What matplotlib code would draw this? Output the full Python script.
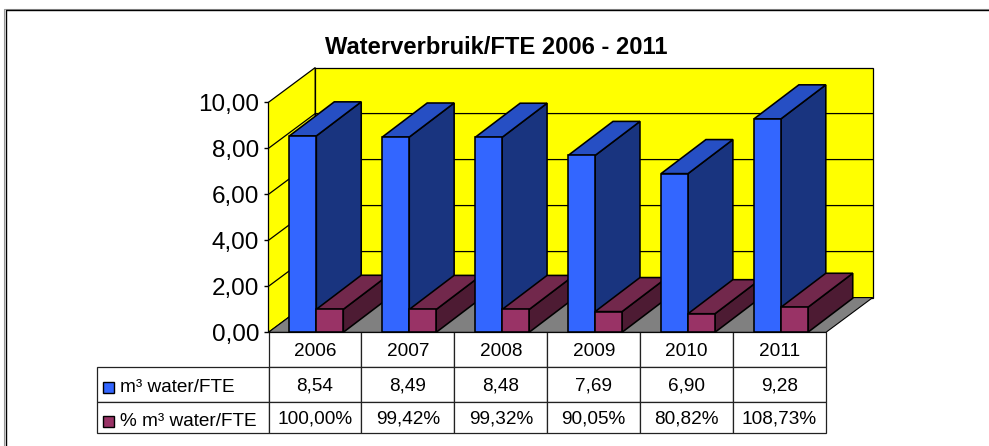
import matplotlib
matplotlib.use("Agg")
import matplotlib.pyplot as plt
from matplotlib.lines import Line2D
from matplotlib.patches import Polygon, Rectangle

plt.rcParams['font.family'] = ['Liberation Sans', 'DejaVu Sans']

years = ["2006", "2007", "2008", "2009", "2010", "2011"]
water = [8.54, 8.49, 8.48, 7.69, 6.90, 9.28]
pct = [100.00, 99.42, 99.32, 90.05, 80.82, 108.73]
water_labels = ["8,54", "8,49", "8,48", "7,69", "6,90", "9,28"]
pct_labels = ["100,00%", "99,42%", "99,32%", "90,05%", "80,82%", "108,73%"]
yticks = [0, 2, 4, 6, 8, 10]
ytick_labels = ["0,00", "2,00", "4,00", "6,00", "8,00", "10,00"]
row_labels = ["m³ water/FTE", "% m³ water/FTE"]
title = "Waterverbruik/FTE 2006 - 2011"

W, H = 989, 446
# depth of the 3d box, in axis units
DX = 0.503
DY = 1.51
BAR_W = 0.29
GAP = 0.225

fig = plt.figure(figsize=(W / 100, H / 100), dpi=100)

# only the top and left of the chart frame fall inside the picture
frame_x = [5.5 / W, 5.5 / W, 1]
frame_y = [0, 1 - 9.5 / H, 1 - 9.5 / H]
fig.add_artist(Line2D([v - 1 / W if i < 2 else v for i, v in enumerate(frame_x)],
                      [v + 1 / H if i > 0 else v for i, v in enumerate(frame_y)], color="#999999", lw=0.8))
fig.add_artist(Line2D(frame_x, frame_y, color="black", lw=1.0))

ax = fig.add_axes([268.5 / W, 1 - 332.3 / H, 557.5 / W, 230 / H])
ax.set_xlim(0, 6)
ax.set_ylim(0, 10)
ax.patch.set_visible(False)
for s in ax.spines.values():
    s.set_visible(False)


def poly(pts, fc, z=2, lw=1.15, ec="black"):
    ax.add_patch(Polygon(pts, closed=True, fc=fc, ec=ec, lw=lw, zorder=z, clip_on=False, joinstyle="miter"))


# walls and floor
poly([(0, 0), (DX, DY), (DX, 10 + DY), (0, 10)], "#ffff00", lw=0.9)
poly([(DX, DY), (6 + DX, DY), (6 + DX, 10 + DY), (DX, 10 + DY)], "#ffff00", lw=0.9)
poly([(0, 0), (6, 0), (6 + DX, DY), (DX, DY)], "#808080", lw=0.8)

for t in yticks[1:-1]:
    ax.plot([0, DX, 6 + DX], [t, t + DY, t + DY], color="black", lw=0.9, zorder=3, clip_on=False)


def bar3d(x, w, h, front, top, side, z):
    poly([(x + w, 0), (x + w + DX * 0.96, DY * 0.98), (x + w + DX * 0.96, h + DY * 0.98), (x + w, h)], side, z)
    poly([(x, h), (x + DX * 0.96, h + DY * 0.98), (x + w + DX * 0.96, h + DY * 0.98), (x + w, h)], top, z)
    poly([(x, 0), (x + w, 0), (x + w, h), (x, h)], front, z + 0.5)


# each year's blue box goes first, its maroon one sits in front of it
for i in range(len(years)):
    x = i + GAP
    bar3d(x, BAR_W, water[i], "#3366ff", "#264fc4", "#19347f", 4 + i * 2)
    bar3d(x + BAR_W, BAR_W, pct[i] / 100, "#993366", "#72284c", "#4d1b33", 5 + i * 2)

ax.set_xticks([])
ax.set_yticks(yticks)
ax.set_yticklabels(ytick_labels, fontsize=17.5, color="black")
ax.tick_params(axis="y", length=3.6, width=1, pad=3, color="black")

# data table under the axis, first column holds the legend
table_h = (433.3 - 332.3) / 230
label_w = 171.8 / 557.5
rows = [[""] + water_labels, [""] + pct_labels]
tbl = ax.table(cellText=rows, colLabels=[""] + years, colWidths=[label_w] + [1 / 6] * 6,
               cellLoc="center", bbox=[-label_w, -table_h, 1 + label_w, table_h], zorder=1)
tbl.auto_set_font_size(False)
for (r, c), cell in tbl.get_celld().items():
    cell.set_linewidth(0.9)
    cell.set_edgecolor("#222222")
    cell.get_text().set_fontsize(13.7)
    cell.get_text().set_color("black")
    cell.get_text().set_verticalalignment("center_baseline")
    cell.set_height({0: 34.4, 1: 35, 2: 31.6}[r] / 230 / table_h)
tbl[(0, 0)].visible_edges = ""

for i, col in enumerate(["#3366ff", "#993366"]):
    y = 387.5 + i * 33.5
    fig.patches.append(Rectangle((102.5 / W, 1 - (y + 5.5) / H), 11 / W, 11 / H, transform=fig.transFigure,
                                 fc=col, ec="black", lw=1, zorder=10))
    fig.text(120 / W, 1 - (386 + i * 33.5) / H, row_labels[i], ha="left", va="center_baseline", fontsize=13.7, color="black")

fig.text(496.5 / W, 1 - 44.5 / H, title, ha="center", va="center_baseline", fontsize=17.1, fontweight="bold", color="black")
fig.savefig("out.png", dpi=100)
